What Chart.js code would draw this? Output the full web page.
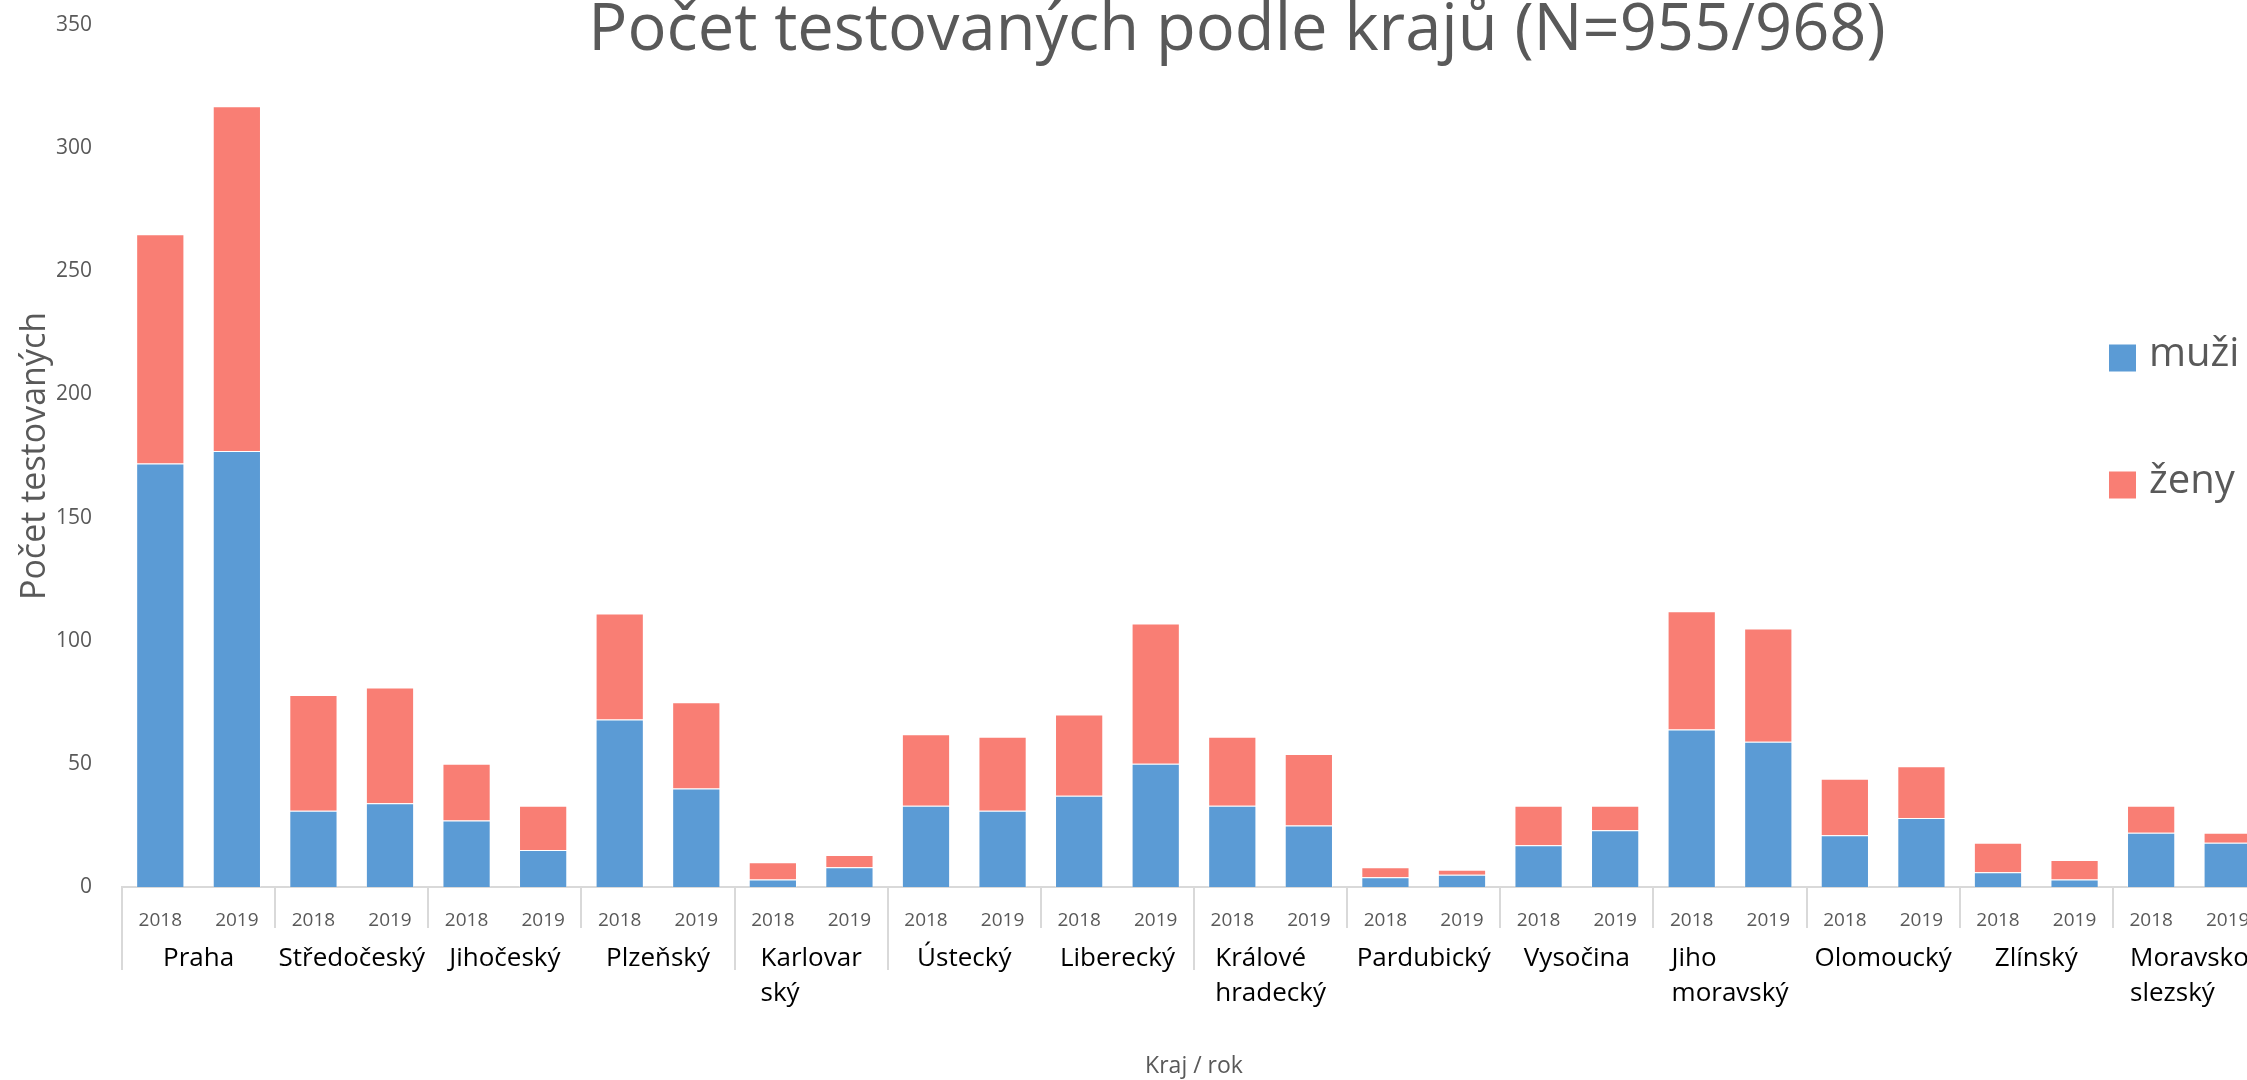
<!DOCTYPE html>
<html lang="cs">
<head>
<meta charset="utf-8">
<title>Počet testovaných podle krajů</title>
<script src="https://cdn.jsdelivr.net/npm/chart.js@4.4.1/dist/chart.umd.min.js"></script>
<style>
  html, body { margin: 0; padding: 0; background: #fff; overflow: hidden; }
  #wrap { width: 2247px; height: 1080px; overflow: hidden; }
  canvas { display: block; }
</style>
</head>
<body>
<div id="wrap"><canvas id="chart" width="2290" height="1080"></canvas></div>
<script>
// kraje (two-line names are split like in the original axis)
const regions = [
    'Praha', 'Středočeský', 'Jihočeský', 'Plzeňský', ['Karlovar', 'ský'],
    'Ústecký', 'Liberecký', ['Králové', 'hradecký'], 'Pardubický', 'Vysočina',
    ['Jiho', 'moravský'], 'Olomoucký', 'Zlínský', ['Moravsko', 'slezský']
];
const years = ['2018', '2019'];

// one value per kraj and year: 2018, 2019, 2018, 2019, ...
const muzi = [172, 177, 31, 34, 27, 15, 68, 40, 3, 8, 33, 31, 37, 50,
              33, 25, 4, 5, 17, 23, 64, 59, 21, 28, 6, 3, 22, 18];
const zeny = [93, 140, 47, 47, 23, 18, 43, 35, 7, 5, 29, 30, 33, 57,
              28, 29, 4, 2, 16, 10, 48, 46, 23, 21, 12, 8, 11, 4];

const yMax = 350;
const yStep = 50;

const chartTitle = 'Počet testovaných podle krajů (N=955/968)';
const yTitle = 'Počet testovaných';
const xTitle = 'Kraj / rok';

const barLabels = regions.flatMap(() => years);

const FONT = '"Open Sans", "Noto Sans", sans-serif';
const GREY = '#595959';
const LINE = '#d9d9d9';

// big title, drawn over the plot like in Excel
const topTitle = {
    id: 'topTitle',
    afterDraw(chart, args, opts) {
        const ctx = chart.ctx;
        ctx.save();
        ctx.font = `${opts.size}px ${FONT}`;
        ctx.fillStyle = GREY;
        ctx.textAlign = 'center';
        ctx.textBaseline = 'alphabetic';
        ctx.fillText(opts.text, opts.x, opts.y);
        ctx.restore();
    }
};

// second level of the category axis: kraj names + separators
const groupAxis = {
    id: 'groupAxis',
    afterDraw(chart, args, opts) {
        const x2 = chart.scales.x2;
        const ctx = chart.ctx;
        const labels = x2.getLabels();
        const half = (x2.getPixelForValue(1) - x2.getPixelForValue(0)) / 2;
        const top = chart.scales.x.top;

        ctx.save();
        ctx.strokeStyle = LINE;
        ctx.lineWidth = 2;
        for (let g = 0; g <= labels.length; g++) {
            const px = Math.round(x2.getPixelForValue(0) - half + g * half * 2);
            const end = opts.longLines.includes(g) ? opts.longEnd : opts.shortEnd;
            ctx.beginPath();
            ctx.moveTo(px, top);
            ctx.lineTo(px, end);
            ctx.stroke();
        }

        ctx.font = `${opts.size}px ${FONT}`;
        ctx.fillStyle = '#000';
        ctx.textAlign = 'left';
        ctx.textBaseline = 'alphabetic';
        labels.forEach((label, g) => {
            const lines = Array.isArray(label) ? label : [label];
            const w = Math.max(...lines.map(l => ctx.measureText(l).width));
            const left = x2.getPixelForValue(g) - w / 2;
            lines.forEach((l, i) => ctx.fillText(l, left, opts.y + i * opts.lineHeight));
        });
        ctx.restore();
    }
};

// legend on the right
const sideLegend = {
    id: 'sideLegend',
    afterDraw(chart, args, opts) {
        const ctx = chart.ctx;
        ctx.save();
        ctx.font = `${opts.size}px ${FONT}`;
        ctx.textBaseline = 'middle';
        ctx.textAlign = 'left';
        chart.data.datasets.forEach((ds, i) => {
            const cy = opts.y + i * opts.gap;
            ctx.fillStyle = ds.backgroundColor;
            ctx.fillRect(opts.x, cy - opts.box / 2, opts.box, opts.box);
            ctx.fillStyle = GREY;
            ctx.fillText(ds.label, opts.x + opts.box + 13, cy - 3);
        });
        ctx.restore();
    }
};

new Chart(document.getElementById('chart'), {
    type: 'bar',
    data: {
        labels: barLabels,
        datasets: [
            {
                label: 'muži',
                data: muzi,
                backgroundColor: '#5b9bd5',
                borderColor: 'rgba(255,255,255,0.35)',
                borderWidth: 1,
                barPercentage: 0.63,
                categoryPercentage: 1
            },
            {
                label: 'ženy',
                data: zeny,
                backgroundColor: '#f97e74',
                borderColor: 'rgba(255,255,255,0.35)',
                borderWidth: 1,
                barPercentage: 0.63,
                categoryPercentage: 1
            }
        ]
    },
    options: {
        responsive: false,
        animation: false,
        devicePixelRatio: 1,
        layout: { padding: { top: 25, right: 24, bottom: 0, left: 0 } },
        plugins: {
            legend: { display: false },
            tooltip: { enabled: false },
            topTitle: { text: chartTitle, x: 1237, y: 50, size: 65 },
            groupAxis: { y: 966, lineHeight: 35, size: 26, shortEnd: 928, longEnd: 970, longLines: [0, 4, 5, 7] },
            sideLegend: { x: 2109, y: 358, gap: 127, box: 27, size: 40 }
        },
        scales: {
            x: {
                stacked: true,
                weight: 0,
                grid: { display: false },
                border: { display: true, color: LINE, width: 2 },
                ticks: {
                    color: GREY,
                    font: { family: FONT, size: 19 },
                    padding: 14,
                    maxRotation: 0,
                    autoSkip: false
                },
                afterFit: s => { s.height = 48; }
            },
            x2: {
                type: 'category',
                labels: regions,
                position: 'bottom',
                offset: true,
                weight: 1,
                grid: { display: false },
                border: { display: false },
                ticks: { display: false },
                title: {
                    display: true,
                    text: xTitle,
                    color: GREY,
                    font: { family: FONT, size: 23 },
                    padding: 0
                },
                afterFit: s => { s.height = 145; }
            },
            y: {
                stacked: true,
                min: 0,
                max: yMax,
                grid: { display: false },
                border: { display: false },
                ticks: {
                    stepSize: yStep,
                    color: GREY,
                    font: { family: FONT, size: 21 },
                    padding: 22
                },
                title: {
                    display: true,
                    text: yTitle,
                    color: GREY,
                    font: { family: FONT, size: 34 },
                    padding: { top: 15 }
                },
                afterFit: s => {
                    s.width = 122;
                    // ticks.padding would otherwise push the plot top down
                    s.paddingTop = 0;
                    s.paddingBottom = 0;
                }
            }
        }
    },
    plugins: [topTitle, groupAxis, sideLegend]
});
</script>
</body>
</html>
